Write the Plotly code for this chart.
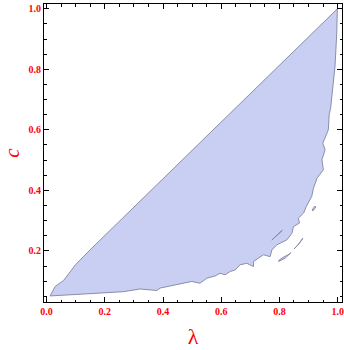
import plotly.graph_objects as go

# main region outline (lambda, c), traced clockwise from lower-left corner
lam_edge = [0.012, 0.029, 0.058, 0.100, 0.149, 0.400, 0.676, 0.999,
            0.997, 0.991, 0.985, 0.980, 0.976, 0.971, 0.968,
            0.949, 0.957, 0.946, 0.951, 0.929, 0.917, 0.911, 0.900, 0.892,
            0.883, 0.865, 0.869, 0.848, 0.843, 0.825, 0.791, 0.774, 0.768,
            0.745, 0.728, 0.711, 0.711, 0.688, 0.665, 0.648, 0.631, 0.613,
            0.596, 0.579, 0.551, 0.527, 0.499, 0.470, 0.436, 0.390, 0.379,
            0.356, 0.321, 0.264, 0.207, 0.092, 0.012]
c_edge = [0.051, 0.082, 0.102, 0.155, 0.203, 0.439, 0.699, 1.000,
          0.920, 0.810, 0.755, 0.700, 0.672, 0.650, 0.600,
          0.556, 0.534, 0.501, 0.468, 0.440, 0.407, 0.380, 0.363, 0.346,
          0.325, 0.308, 0.292, 0.280, 0.258, 0.236, 0.220, 0.203, 0.181,
          0.187, 0.176, 0.165, 0.148, 0.159, 0.154, 0.137, 0.132, 0.121,
          0.126, 0.117, 0.110, 0.093, 0.099, 0.093, 0.088, 0.077, 0.069,
          0.071, 0.074, 0.065, 0.062, 0.054, 0.051]

# small detached pieces below the jagged edge
isl1_lam = [0.774, 0.808, 0.810, 0.776, 0.774]
isl1_c = [0.236, 0.264, 0.268, 0.240, 0.236]
isl2_lam = [0.797, 0.820, 0.839, 0.836, 0.815, 0.799, 0.797]
isl2_c = [0.165, 0.176, 0.194, 0.190, 0.180, 0.170, 0.165]
isl3_lam = [0.850, 0.866, 0.880, 0.877, 0.862, 0.852, 0.850]
isl3_c = [0.206, 0.222, 0.242, 0.236, 0.218, 0.210, 0.206]
isl4_lam = [0.912, 0.922, 0.925, 0.915, 0.912]
isl4_c = [0.335, 0.348, 0.345, 0.332, 0.335]

x_ticks = [0.0, 0.2, 0.4, 0.6, 0.8, 1.0]
y_ticks = [0.2, 0.4, 0.6, 0.8, 1.0]

fill_col = "rgb(201,207,243)"
edge_col = "rgb(128,132,158)"

fig = go.Figure()
fig.add_trace(go.Scatter(x=lam_edge, y=c_edge, mode="lines", fill="toself",
                         fillcolor=fill_col,
                         line=dict(color=edge_col, width=0.9)))
for lx, ly in [(isl1_lam, isl1_c), (isl2_lam, isl2_c),
               (isl3_lam, isl3_c), (isl4_lam, isl4_c)]:
    fig.add_trace(go.Scatter(x=lx, y=ly, mode="lines", fill="toself",
                             fillcolor=fill_col,
                             line=dict(color=edge_col, width=0.9)))

tick_font = dict(family="Liberation Serif", size=10, color="red", weight="bold")
axis_common = dict(
    showgrid=False, zeroline=False, showline=True, linecolor="black",
    linewidth=1, mirror="allticks", ticks="inside", ticklen=5,
    tickcolor="black", tickfont=tick_font, tickformat=".1f",
    minor=dict(ticks="inside", ticklen=2.5, tickcolor="black", dtick=0.05),
)

fig.update_layout(
    width=344, height=350,
    margin=dict(l=44, r=2, t=4, b=48, autoexpand=False),
    paper_bgcolor="white", plot_bgcolor="white",
    showlegend=False,
    xaxis=dict(range=[-0.009, 1.015], tickvals=x_ticks,
               title=dict(text="λ", standoff=12,
                          font=dict(family="Liberation Serif", size=22,
                                    color="red")),
               **axis_common),
    yaxis=dict(range=[0.031, 1.016], tickvals=y_ticks,
               title=dict(text="<i>c</i>", standoff=12,
                          font=dict(family="Liberation Serif", size=21,
                                    color="red")),
               **axis_common),
)

# page body has a default margin; drop it so the figure sits at the corner
fig.write_html("out.html", config={"displayModeBar": False},
               post_script="document.body.style.margin='0';")
